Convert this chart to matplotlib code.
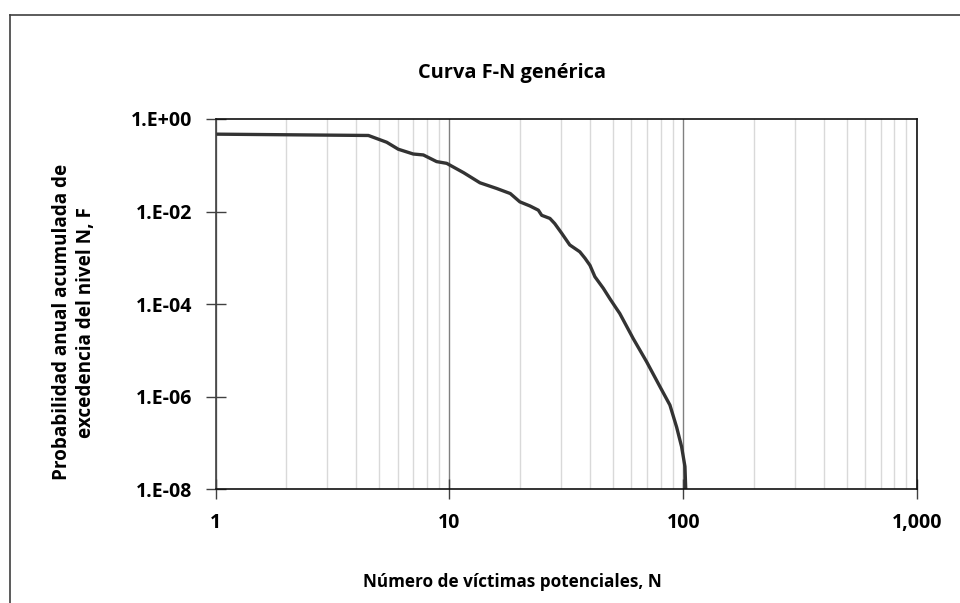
import numpy as np
import matplotlib.pyplot as plt
from matplotlib.ticker import FixedLocator, FuncFormatter, NullFormatter
from matplotlib.lines import Line2D

victimas_N = [1, 4.5, 5.39, 6.04, 7.0, 7.73, 8.81, 9.73, 11.5, 13.5, 15.9, 18.2,
              20.0, 22.1, 24.0, 24.8, 26.9, 28.2, 30.2, 32.7, 36.1, 38.0, 39.9,
              41.9, 45.5, 48.6, 51.9, 53.5, 61.1, 69.7, 79.5, 87.7, 93.7, 98.4,
              101.7, 102.5]
prob_F = [0.47, 0.44, 0.314, 0.222, 0.175, 0.167, 0.12, 0.110, 0.069, 0.0418,
          0.0316, 0.0245, 0.0162, 0.0132, 0.0107, 0.0083, 0.0071, 0.0055, 0.0034,
          0.0019, 0.00135, 9.8e-4, 6.9e-4, 3.9e-4, 2.2e-4, 1.3e-4, 7.9e-5, 6.3e-5,
          1.8e-5, 5.7e-6, 1.65e-6, 6.6e-7, 2.2e-7, 8.3e-8, 3.1e-8, 1e-8]

x_ticks = [1, 10, 100, 1000]
y_ticks = [1e-8, 1e-6, 1e-4, 1e-2, 1e0]

plt.rcParams['font.family'] = ['Open Sans', 'DejaVu Sans']
plt.rcParams['font.weight'] = 'bold'

fig = plt.figure(figsize=(9.6, 6.03), dpi=100)
ax = fig.add_axes([0.2247, 0.1886, 0.7305, 0.6141])

# marco exterior del grafico (solo lados izquierdo y superior visibles)
bx, by = 10 / 960, 1 - 15 / 603
fig.add_artist(Line2D([bx, bx], [0, by], transform=fig.transFigure,
                      color='#404040', linewidth=1.2))
fig.add_artist(Line2D([bx, 1], [by, by], transform=fig.transFigure,
                      color='#404040', linewidth=1.2))

ax.plot(victimas_N, prob_F, color='#333333', linewidth=2.4, solid_capstyle='butt')

ax.set_xscale('log')
ax.set_yscale('log')
ax.set_xlim(1, 1000)
ax.set_ylim(1e-8, 1)

ax.xaxis.set_major_locator(FixedLocator(x_ticks))
ax.xaxis.set_major_formatter(FuncFormatter(lambda v, p: f'{int(v):,}'))
minors = [m * 10 ** d for d in range(0, 3) for m in range(2, 10)]
ax.xaxis.set_minor_locator(FixedLocator(minors))
ax.xaxis.set_minor_formatter(NullFormatter())

ax.yaxis.set_major_locator(FixedLocator(y_ticks))
ax.yaxis.set_major_formatter(FuncFormatter(lambda v, p: f'1.E{int(round(np.log10(v))):+03d}'))
ax.yaxis.set_minor_locator(FixedLocator([]))

ax.grid(True, axis='x', which='minor', color='#d9d9d9', linewidth=1)
ax.grid(True, axis='x', which='major', color='#808080', linewidth=1)
ax.set_axisbelow(True)

ax.tick_params(axis='both', which='major', direction='inout', length=14,
               width=1, color='#404040', labelsize=14, pad=10)
ax.tick_params(axis='x', which='minor', length=0)
for lab in ax.get_xticklabels() + ax.get_yticklabels():
    lab.set_fontweight('bold')

for s in ['top', 'right', 'bottom']:
    ax.spines[s].set_color('#111111')
ax.spines['left'].set_color('#404040')
for s in ax.spines.values():
    s.set_linewidth(1.2)

fig.text(512 / 960, 1 - 73 / 603, 'Curva F-N genérica', ha='center', va='center',
         fontsize=14.4, fontweight='bold')
fig.text(512 / 960, 1 - 582 / 603, 'Número de víctimas potenciales, N', ha='center',
         va='center', fontsize=12.3, fontweight='bold')
fig.text(74 / 960, 1 - 322 / 603, 'Probabilidad anual acumulada de\nexcedencia del nivel N, F',
         ha='center', va='center', rotation=90, fontsize=13.6, fontweight='bold',
         multialignment='center', linespacing=1.25)

fig.savefig('out.png', dpi=100)
